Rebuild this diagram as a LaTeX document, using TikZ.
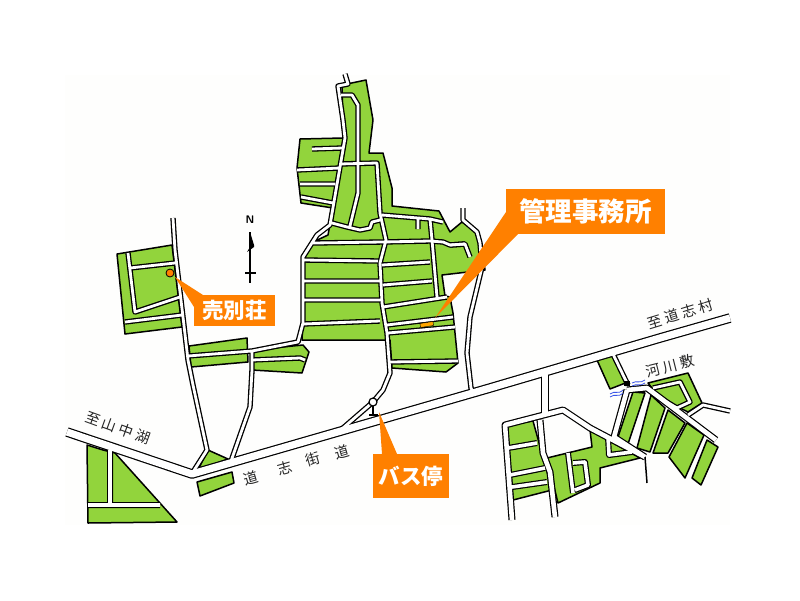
\documentclass[tikz,border=0pt]{standalone}
\usepackage{fontspec}
\newfontfamily\cjk{Noto Sans CJK JP}
\definecolor{lot}{HTML}{92D43C}
\definecolor{tag}{HTML}{FF8000}
\definecolor{paper}{HTML}{FEFEFD}
\definecolor{river}{HTML}{3A55E8}
\tikzset{
  lotshape/.style={draw=black,fill=lot,line width=1.5pt,line join=round},
  tagshape/.style={fill=tag,draw=none},
  taglabel/.style={text=white,font=\cjk\bfseries\fontsize{21}{21}\selectfont,inner sep=0pt},
  maplabel/.style={text=black!85,font=\cjk\fontsize{14.5}{15}\selectfont,inner sep=0pt},
}
\newcommand\gp{\hspace{3.2pt}}
\def\narrowroads{
 (345,74)--(348,84)--(338,86)--(343,120)--(345,138)--(340,167)--(330,225)--(317,235)--(303,257)--(303,323)--(298,342)--(252,351)--(188,356)
 (341,95)--(352,95)--(358,105)--(358,163)--(358,193)--(350,226)
 (340,164)--(377,163)--(380,213)--(386,240)--(380,263)--(382,303)--(387,333)--(390,373)--(383,390)--(373,402)
 (332,223)--(347,227)--(360,230)--(370,228)--(372,222)--(380,220)
 (382,215)--(430,219)--(443,222)
 (430,219)--(432,240)--(437,297)
 (313,243)--(383,242)--(430,241)--(443,242)--(450,245)--(465,244)
 (303,260)--(378,261)
 (303,281)--(380,281)
 (303,300)--(380,300)
 (303,324)--(380,321)
 (382,265)--(430,262)
 (383,285)--(432,281)
 (383,307)--(447,297)
 (387,325)--(453,317)
 (388,333)--(455,327)
 (390,362)--(458,361)
 (297,170)--(340,168)
 (300,184)--(335,184)
 (301,197)--(333,203)
 (463,208)--(463,220)--(477,232)--(480,243)--(482,267)--(470,317)--(467,353)--(471,388)--(473,392)
 (173,218)--(175,250)--(183,317)--(188,360)--(193,385)--(207,450)--(193,472)
 (252,351)--(252,370)--(250,407)--(230,464)
 (130,268)--(175,263)
 (125,322)--(182,315)
 (612,352)--(628,385)
 (653,388)--(680,382)--(690,402)--(677,408)--(660,398)
 (730,411)--(703,405)--(688,415)
 (373,402)--(343,428)
}
\def\deadroads{
 (450,245)--(465,244)--(470,257)
 (418,218)--(418,229)
 (312,149)--(343,148)
 (128,253)--(135,312)--(180,297)
 (252,360)--(300,358)--(305,360)
}
\def\wideroads{
 (512,520)--(505,425)--(563,410)--(590,428)--(645,457)
 (540,420)--(543,453)--(550,472)--(555,517)
 (627,390)--(647,388)--(716,440)
 (627,390)--(614,437)--(645,457)
}
\def\minorroads{
 (508,448)--(537,443)
 (510,475)--(545,468)
 (512,487)--(547,482)
 (110,450)--(110,503)
 (88,505)--(160,505)
 (568,453)--(573,493)
 (573,463)--(585,462)--(588,485)--(575,490)
 (608,437)--(609,455)--(632,452)
}
\def\highway{(67,432)--(192,474)--(490,388)--(660,338)--(730,318)}
\begin{document}
\begin{tikzpicture}[x=1pt,y=-1pt]
\useasboundingbox (0,0) rectangle (800,600);
\fill[white] (0,0) rectangle (800,600);
\fill[paper] (65,75) rectangle (730,525);
% village
\draw[lotshape] (342,85)--(366,80)--(373,120)--(369,153)--(383,153)--(392,188)--(392,206)--(439,211)--(450,232)--(462,222)--(475,231)--(482,247)--(485,270)--(442,275)--(445,296)--(450,297)--(453,313)--(458,363)--(446,372)--(392,368)--(390,340)--(302,340)--(303,320)--(303,257)--(313,242)--(328,235)--(333,208)--(301,203)--(297,168)--(300,139)--(343,138)--cycle;
% west lots
\draw[lotshape] (117,254)--(172,245)--(182,327)--(125,334)--cycle;
\draw[lotshape] (189,346)--(247,338)--(248,362)--(191,367)--cycle;
\draw[lotshape] (252,350)--(303,345)--(309,352)--(302,373)--(252,370)--cycle;
\draw[lotshape] (87,445)--(103,450)--(115,453)--(177,522)--(88,523)--cycle;
\draw[lotshape] (208,450)--(228,459)--(198,470)--cycle;
\draw[lotshape] (197,482)--(232,472)--(234,483)--(200,496)--cycle;
% east lots
\draw[lotshape] (507,425)--(533,421)--(546,468)--(552,490)--(513,500)--cycle;
\draw[lotshape] (547,458)--(592,447)--(590,430)--(640,458)--(600,468)--(600,483)--(558,503)--cycle;
\draw[lotshape] (597,360)--(612,356)--(628,382)--(610,389)--cycle;
\draw[lotshape] (648,383)--(688,373)--(702,403)--(688,412)--(660,398)--cycle;
\draw[lotshape] (633,392)--(645,393)--(628,444)--(618,437)--cycle;
\draw[lotshape] (651,395)--(665,408)--(650,452)--(637,448)--cycle;
\draw[lotshape] (668,410)--(685,423)--(668,453)--(653,453)--cycle;
\draw[lotshape] (687,423)--(704,435)--(685,478)--(669,457)--cycle;
\draw[lotshape] (707,440)--(718,447)--(701,485)--(692,478)--cycle;
% roads: casings first, then the white, so that junctions stay open
\draw[black,line width=5.4pt,line join=round] \narrowroads;
\draw[black,line width=5.4pt,line join=round,line cap=square] \deadroads;
\draw[black,line width=6pt,line join=round] \minorroads;
\draw[black,line width=9.6pt,line join=round] \highway;
\draw[black,line width=8pt] (545,375)--(545,415);
\draw[black,line width=7pt,line join=round] \wideroads;
\draw[white,line width=2.8pt,line join=round] \narrowroads;
\draw[white,line width=2.8pt,line join=round] \deadroads;
\draw[white,line width=3.6pt,line join=round] \minorroads;
\draw[white,line width=7.2pt,line join=round] \highway;
\draw[white,line width=5.6pt] (545,375)--(545,415);
\draw[white,line width=4.6pt,line join=round] \wideroads;
\draw[black,line width=1.5pt] (645,457)--(647,483);
% river
\draw[river,line width=.8pt] (610,394) .. controls (615,390) and (618,395) .. (623,390);
\draw[river,line width=.8pt] (610,397) .. controls (615,393) and (618,398) .. (623,393);
\draw[river,line width=.8pt] (632,383) .. controls (637,380) and (640,384) .. (645,380);
\draw[river,line width=.8pt] (632,386) .. controls (637,383) and (640,387) .. (645,383);
\fill[black] (624,381) rectangle (630,386);
% bus stop mark
\draw[black,line width=1.2pt,fill=white] (373,402) circle (4);
\draw[black,line width=1.2pt] (373,406)--(373,415) (369,415)--(378,415);
% north arrow
\node[inner sep=0pt,font=\sffamily\bfseries\fontsize{11}{11}\selectfont] (north) at (250,220) {N};
\draw[black,line width=1.6pt] (250,232)--(250,283) (245,273)--(256,273);
\fill[black] (250,232)--(254,245)--(254,247)--(247,252)--(250,247)--cycle;
% manager's office
\draw[black,line width=.4pt,fill=tag!70!yellow] (420,323.5)--(433,321.5)--(433.5,325.5)--(420.5,327.5)--cycle;
\fill[tagshape] (506,189) rectangle (665,234);
\fill[tagshape] (506,212)--(435,318)--(518,234)--cycle;
\node[taglabel] (office) at (585.5,211.5) {\fontsize{26.5}{27}\selectfont 管理事務所};
% villa
\draw[black,line width=.8pt,fill=tag] (170,273) circle (4);
\fill[tagshape] (194,295) rectangle (275,326);
\fill[tagshape] (175,277)--(203,295)--(194,307)--cycle;
\node[taglabel] (villa) at (234.5,310.5) {\fontsize{21.5}{22}\selectfont 売別荘};
% bus stop
\fill[tagshape] (373,454) rectangle (449,498);
\fill[tagshape] (379,412)--(397,454)--(382,454)--cycle;
\node[taglabel] (bus) at (411,476) {\fontsize{21.5}{22}\selectfont バス停};
% map labels
\node[maplabel,rotate=-20] (lake) at (118,428) {至\gp 山\gp 中\gp 湖};
\node[maplabel,rotate=17] (village) at (680,314) {至\gp 道\gp 志\gp 村};
\node[maplabel,rotate=14] (riverbed) at (670,366) {河\gp 川\gp 敷};
\node[maplabel,rotate=16] (d1) at (251,478) {道};
\node[maplabel,rotate=16] (d2) at (285,468) {志};
\node[maplabel,rotate=16] (d3) at (313,459) {街};
\node[maplabel,rotate=16] (d4) at (342,452) {道};
\end{tikzpicture}
\end{document}
